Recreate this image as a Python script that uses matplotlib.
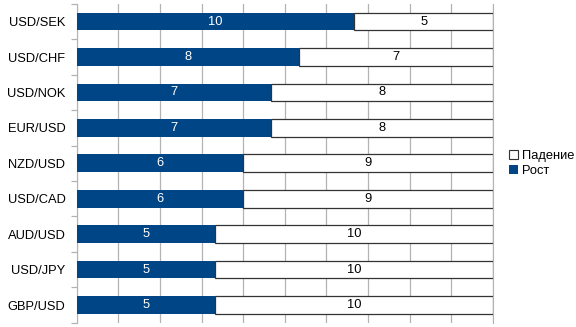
import numpy as np
import matplotlib.pyplot as plt
from matplotlib.patches import Patch

plt.rcParams['font.family'] = ['Liberation Sans', 'DejaVu Sans']

pairs = ['USD/SEK', 'USD/CHF', 'USD/NOK', 'EUR/USD', 'NZD/USD',
         'USD/CAD', 'AUD/USD', 'USD/JPY', 'GBP/USD']
rost = [10, 8, 7, 7, 6, 6, 5, 5, 5]
padenie = [5, 7, 8, 8, 9, 9, 10, 10, 10]

blue = '#004586'
grid_col = '#b3b3b3'
fs = 9.3

fig = plt.figure(figsize=(5.76, 3.27), dpi=100)
ax = fig.add_axes([0.133, 0.013, 0.723, 0.975])

y = np.arange(len(pairs))
ax.barh(y, rost, height=0.5, color=blue, zorder=3)
ax.barh(y, padenie, left=rost, height=0.5, color='white',
        edgecolor='#333333', linewidth=0.9, zorder=3)

for i in range(len(pairs)):
    ax.text(rost[i] / 2, y[i], str(rost[i]), color='white',
            ha='center', va='center', fontsize=fs, zorder=4)
    ax.text(rost[i] + padenie[i] / 2, y[i], str(padenie[i]), color='black',
            ha='center', va='center', fontsize=fs, zorder=4)

ax.set_xlim(0, 15)
ax.set_ylim(len(pairs) - 0.5, -0.5)
ax.set_xticks(np.arange(0, 15.01, 1.5))
ax.xaxis.set_tick_params(length=0, labelbottom=False)
ax.grid(axis='x', color=grid_col, linewidth=0.9, zorder=0)

ax.set_yticks(y)
ax.set_yticklabels(pairs, fontsize=fs)
ax.set_yticks(np.arange(-0.5, len(pairs)), minor=True)
ax.tick_params(axis='y', which='major', length=0, pad=8)
ax.tick_params(axis='y', which='minor', length=4, color=grid_col, width=0.9)

for s in ['top', 'bottom']:
    ax.spines[s].set_visible(False)
ax.spines['left'].set_color(grid_col)
ax.spines['right'].set_color(grid_col)

handles = [Patch(facecolor='white', edgecolor='#333333', linewidth=0.8, label='Падение'),
           Patch(facecolor=blue, label='Рост')]
fig.legend(handles=handles, loc='center left', bbox_to_anchor=(0.873, 0.5),
           frameon=False, fontsize=fs, handlelength=0.65, handleheight=0.65,
           handletextpad=0.3, labelspacing=0.25, borderpad=0)

fig.savefig('out.png', dpi=100)
